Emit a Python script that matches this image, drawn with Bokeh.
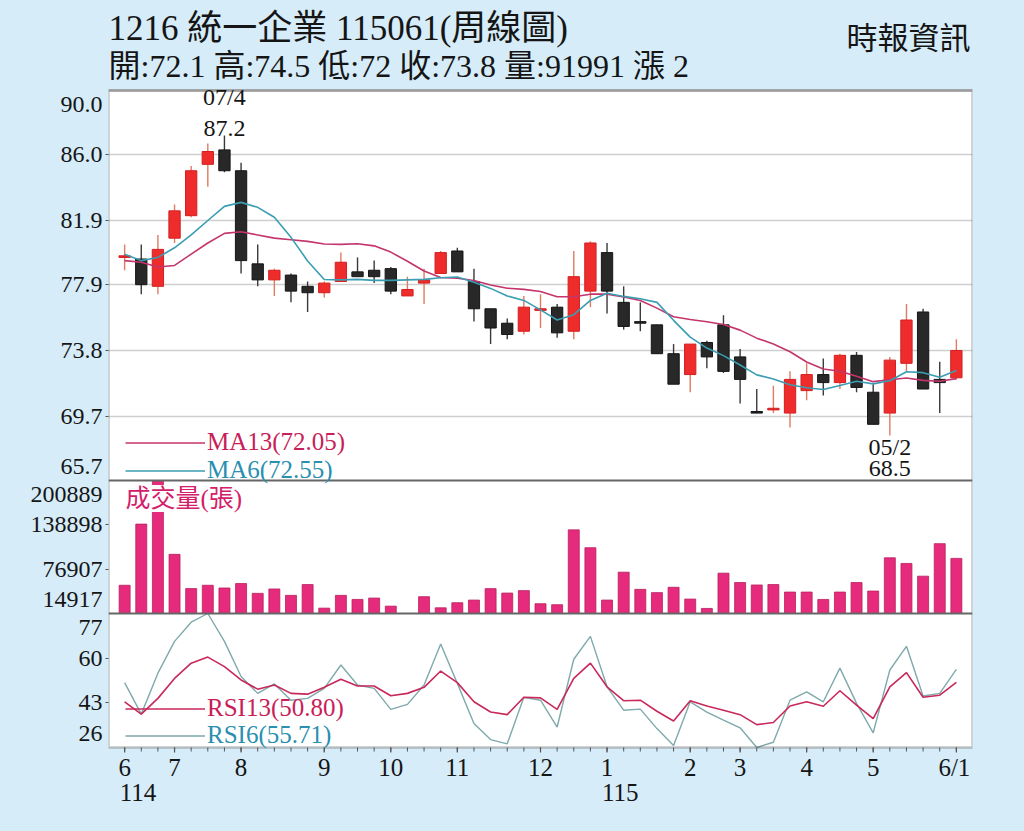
from bokeh.plotting import figure
from bokeh.models import (Range1d, FixedTicker, Label, Span, Legend, LegendItem, ColumnDataSource,
                          BoxAnnotation)
from bokeh.embed import file_html
from bokeh.resources import INLINE

# ---------------- data ----------------
OPEN = [79.6,79.5,77.8,80.8,82.2,85.4,86.3,85.0,79.2,78.2,78.5,77.8,77.4,78.1,78.7,78.8,78.9,77.2,78.0,78.6,
        80.0,78.1,76.4,75.5,75.0,76.3,76.5,75.0,77.5,79.9,76.8,75.6,75.4,73.6,72.3,74.3,75.4,73.4,70.0,70.1,
        69.9,71.3,72.3,71.8,73.5,71.2,69.9,73.0,76.2,72.0,72.1]
HIGH = [80.4,80.4,81.0,82.9,85.3,86.7,87.2,85.5,80.4,78.9,78.6,78.1,78.1,79.9,79.6,79.4,79.0,78.4,78.9,80.0,
        80.2,78.9,76.4,75.8,77.2,77.3,76.7,80.0,80.6,80.5,77.8,76.8,75.4,74.2,74.2,74.4,76.0,73.9,71.4,71.6,
        72.5,73.0,73.3,73.6,73.7,71.7,73.4,76.7,76.4,73.1,74.5]
LOW = [78.8,77.3,77.3,80.5,82.1,84.0,84.9,78.6,77.8,77.2,76.8,76.2,77.1,78.1,78.4,78.0,77.3,77.2,76.7,78.6,
       78.7,75.6,74.2,74.5,74.8,75.2,74.6,74.5,76.5,76.1,75.1,75.0,73.6,71.7,71.2,72.7,72.4,70.5,69.9,69.9,
       69.0,70.7,71.0,71.4,71.2,69.2,68.5,72.5,71.4,69.9,72.0]
CLOSE = [79.7,77.9,80.1,82.5,85.0,86.2,85.0,79.4,78.2,78.8,77.5,77.4,78.0,79.3,78.4,78.4,77.5,77.6,78.2,79.9,
         78.7,76.4,75.2,74.8,76.5,76.4,74.9,78.4,80.5,77.5,75.3,75.5,73.6,71.7,74.2,73.4,72.5,72.0,69.9,70.2,
         72.0,72.3,71.8,73.5,71.5,69.2,73.2,75.7,71.4,71.8,73.8]
MA13 = [79.4,79.3,79.0,79.1,79.8,80.5,81.1,81.2,81.0,80.8,80.7,80.6,80.44,80.41,80.45,80.32,79.93,79.36,78.75,
        78.35,78.3,78.16,77.88,77.68,77.61,77.48,77.15,77.15,77.31,77.31,77.13,76.92,76.44,75.9,75.73,75.59,
        75.42,75.07,74.57,74.21,73.72,73.08,72.65,72.51,72.2,71.86,71.98,72.09,71.94,71.88,72.05]
MA6 = [79.8,79.4,79.6,80.2,81.0,81.9,82.78,83.03,82.72,82.1,80.85,79.38,78.22,78.2,78.23,78.17,78.17,78.2,
       78.23,78.33,78.38,78.05,77.67,77.2,76.92,76.33,75.7,76.03,76.92,77.37,77.17,77.02,76.8,75.68,74.63,
       73.95,73.48,72.9,72.28,72.03,71.67,71.48,71.37,71.62,71.88,71.72,71.92,72.48,72.42,72.13,72.55]
VOLUME = [54400,139900,200889,97600,49700,54400,50600,56800,43100,49200,40300,55400,22400,40300,34600,36500,
          25200,14917,38400,22900,30000,33700,49700,43500,46900,28600,27200,131900,106900,33700,72700,48700,
          44100,51600,35100,22000,71300,58200,54800,55400,44900,44900,34600,44900,58200,46300,92800,84900,
          67100,112600,91991]
RSI13 = [43.4,38.7,44.7,52.3,58.1,60.4,56.8,51.7,48.2,49.8,46.6,46.3,48.9,52.0,49.4,49.4,45.7,46.6,48.9,55.1,
         50.7,43.4,39.5,38.5,45.1,44.9,40.5,52.3,58.1,49.1,43.8,44.0,39.8,36.1,43.8,41.8,40.2,38.5,34.7,35.5,
         41.8,43.4,41.7,47.6,42.1,37.0,49.1,54.5,45.1,45.9,50.8]
RSI6 = [50.7,38.7,54.3,66.4,73.7,77.0,66.4,53.0,46.6,50.2,44.0,44.7,48.5,57.4,49.8,48.5,40.5,42.4,49.8,65.4,
        50.4,35.1,29.0,27.4,45.1,44.0,33.8,59.6,68.3,49.1,40.2,40.6,33.2,26.8,43.4,39.5,36.4,33.5,26.0,28.0,
        44.0,47.2,43.4,56.2,42.8,31.6,55.5,64.5,45.6,46.6,55.71]

PRICE_TICKS = [65.7, 69.7, 73.8, 77.9, 81.9, 86.0, 90.0]
VOL_TICKS = [14917, 76907, 138898, 200889]
RSI_TICKS = [26, 43, 60, 77]
MONTH_IDX = [0, 3, 7, 12, 16, 20, 25, 29, 34, 37, 41, 45, 50]
MONTH_LABELS = ["6", "7", "8", "9", "10", "11", "12", "1", "2", "3", "4", "5", "6/1"]
YEAR_IDX = [0, 29]
YEAR_LABELS = ["114", "115"]

# ---------------- layout constants ----------------
W, H = 1024, 831
BG = "#d6ecf9"
SERIF = "'Liberation Serif', 'Noto Sans CJK TC'"
INK = "#151515"
HEAD_H, MAIN_H, VOL_H, RSI_H = 90, 390, 133, 134
FOOT_H = H - HEAD_H - MAIN_H - VOL_H - RSI_H          # 84 px under the chart
X_START, X_END = -0.97, 50.97
BORDER_L, BORDER_R = 108, 52
MINOR_TICK_PX, MAJOR_TICK_PX = 4, 5

n = len(CLOSE)
idx = list(range(n))

# every panel is mapped onto the one frame that fills the page height
pmin, pmax = PRICE_TICKS[0], PRICE_TICKS[-1]
p_ppu = MAIN_H / (pmax - pmin)
main_range = Range1d(pmin - (VOL_H + RSI_H + FOOT_H) / p_ppu, pmax + HEAD_H / p_ppu)
vmin, vmax = VOL_TICKS[0], VOL_TICKS[-1]
v_ppu = VOL_H / (vmax - vmin)
vol_range = Range1d(vmin - (RSI_H + FOOT_H) / v_ppu, vmax + (HEAD_H + MAIN_H) / v_ppu)
rmin, rmax = RSI_TICKS[0], RSI_TICKS[-1]
r_ppu = RSI_H / (rmax - rmin)
rsi_range = Range1d(rmin - FOOT_H / r_ppu, rmax + (HEAD_H + MAIN_H + VOL_H) / r_ppu)

p = figure(width=W, height=H, x_range=Range1d(X_START, X_END), y_range=main_range,
           output_backend="svg", toolbar_location=None, x_axis_location=None,
           min_border_left=BORDER_L, min_border_right=BORDER_R, min_border_top=0, min_border_bottom=0,
           border_fill_color=BG, background_fill_color=BG, outline_line_color=None)
p.extra_y_ranges = {"vol": vol_range, "rsi": rsi_range}

def to_main(v, rng):
    return main_range.start + (v - rng.start) / (rng.end - rng.start) * (main_range.end - main_range.start)

chart_bottom = to_main(rmin, rsi_range)
# white chart area, drawn beneath everything else
p.add_layout(BoxAnnotation(top=pmax, bottom=chart_bottom, fill_color="white", fill_alpha=1,
                           line_color=None, level="image"))

p.xgrid.visible = False
p.ygrid.ticker = FixedTicker(ticks=PRICE_TICKS[1:-1])
p.ygrid.grid_line_color = "#cfcfcf"
p.ygrid.grid_line_width = 1.5

# left axis: labels of all three panels, placed through the panel scales
shift = 14 / p_ppu   # edge labels are drawn just inside their panel
tick_pos, tick_txt, minor_pos = [], [], []
for ticks, rng, fmt in ((PRICE_TICKS, main_range, "%.1f"), (VOL_TICKS, vol_range, "%d"),
                        (RSI_TICKS, rsi_range, "%d")):
    for i, v in enumerate(ticks):
        pos = to_main(v, rng)
        if i == 0:
            pos += shift
        elif i == len(ticks) - 1:
            pos -= shift
        else:
            minor_pos.append(pos)
        tick_pos.append(pos)
        tick_txt.append(fmt % v)

ya = p.yaxis[0]
ya.ticker = FixedTicker(ticks=tick_pos, minor_ticks=minor_pos)
ya.major_label_overrides = dict(zip(tick_pos, tick_txt))
ya.axis_line_color = None
ya.major_tick_out = 0
ya.major_tick_in = 0
ya.minor_tick_out = 3
ya.minor_tick_in = 0
ya.minor_tick_line_color = "#555555"
ya.major_label_standoff = 3
ya.major_label_text_font = SERIF
ya.major_label_text_font_size = "24px"
ya.major_label_text_color = INK

# chart border and panel separators
p.add_layout(BoxAnnotation(top=pmax, bottom=chart_bottom, fill_alpha=0,
                           line_color="#3a3a3a", line_width=2.5))
p.add_layout(Span(location=pmax, dimension="width", line_color="#9c9c9c", line_width=2.5))
p.add_layout(Span(location=pmin, dimension="width", line_color="#666666", line_width=2))
p.add_layout(Span(location=rmax, dimension="width", y_range_name="rsi",
                  line_color="#666666", line_width=2))

# time ticks under the chart (one per week, months slightly longer)
p.segment(x0=idx, y0=[rmin] * n, x1=idx, y1=[rmin - MINOR_TICK_PX / r_ppu] * n,
          y_range_name="rsi", line_color="#555555", line_width=1)
p.segment(x0=MONTH_IDX, y0=[rmin] * len(MONTH_IDX), x1=MONTH_IDX,
          y1=[rmin - MAJOR_TICK_PX / r_ppu] * len(MONTH_IDX),
          y_range_name="rsi", line_color="#555555", line_width=1.2)

# candles
up = [c >= o for o, c in zip(OPEN, CLOSE)]
src = ColumnDataSource(dict(
    x=idx, high=HIGH, low=LOW,
    top=[max(o, c) for o, c in zip(OPEN, CLOSE)],
    bottom=[min(o, c) for o, c in zip(OPEN, CLOSE)],
    fill=["#ee2c2c" if u else "#282828" for u in up],
    edge=["#d41f1f" if u else "#151515" for u in up],
    wick=["#e07a62" if u else "#3a3a3a" for u in up],
))
p.segment(x0="x", y0="high", x1="x", y1="low", line_color="wick", line_width=1.4, source=src)
p.vbar(x="x", width=0.68, top="top", bottom="bottom", fill_color="fill",
       line_color="edge", line_width=1, source=src)

r_ma13 = p.line(idx, MA13, line_color="#c4356b", line_width=1.6)
r_ma6 = p.line(idx, MA6, line_color="#3a9db2", line_width=1.6)

# volume
p.vbar(x=idx, width=0.66, top=VOLUME, bottom=vmin, y_range_name="vol",
       fill_color="#e62b7c", line_color="#b81f5d", line_width=0.8)

# RSI
r_rsi6 = p.line(idx, RSI6, y_range_name="rsi", line_color="#7fa9ab", line_width=1.4)
r_rsi13 = p.line(idx, RSI13, y_range_name="rsi", line_color="#c8285a", line_width=1.6)

# legends (location measured from the frame bottom = page bottom)
def add_legend(text, renderer, color, bottom_px):
    p.add_layout(Legend(items=[LegendItem(label=text, renderers=[renderer])],
                        location=(17, bottom_px), glyph_width=80, glyph_height=25,
                        label_standoff=2, padding=0, margin=0, spacing=0,
                        border_line_alpha=0, background_fill_alpha=0,
                        label_text_font=SERIF, label_text_font_size="25px",
                        label_text_color=color, label_height=25))

add_legend("MA13(%.2f)" % MA13[-1], r_ma13, "#c81e5a", 291 + FOOT_H)
add_legend("MA6(%.2f)" % MA6[-1], r_ma6, "#2a8fb0", 263 + FOOT_H)
add_legend("RSI13(%.2f)" % RSI13[-1], r_rsi13, "#c81e5a", 25 + FOOT_H)
add_legend("RSI6(%.2f)" % RSI6[-1], r_rsi6, "#2a8fb0", -2 + FOOT_H)

# high / low annotations
hi = HIGH.index(max(HIGH))
lo = LOW.index(min(LOW))
p.add_layout(Label(x=hi, y=HIGH[hi], text="07/4", text_align="center", text_baseline="bottom",
                   y_offset=25, text_font=SERIF, text_font_size="24px", text_color=INK))
p.add_layout(Label(x=hi, y=HIGH[hi], text="%.1f" % HIGH[hi], text_align="center",
                   text_baseline="bottom", y_offset=-1, text_font=SERIF, text_font_size="24px",
                   text_color=INK))
p.add_layout(Label(x=lo, y=LOW[lo], text="05/2", text_align="center", text_baseline="top",
                   y_offset=2, text_font=SERIF, text_font_size="24px", text_color=INK))
p.add_layout(Label(x=lo, y=LOW[lo], text="%.1f" % LOW[lo], text_align="center", text_baseline="top",
                   y_offset=-25, text_font=SERIF, text_font_size="24px", text_color=INK,
                   background_fill_color="white"))

# volume panel title
p.add_layout(Label(x=X_START, y=vmax, y_range_name="vol", text="成交量(張)", x_offset=17,
                   y_offset=-18, text_align="left", text_baseline="middle", text_font=SERIF,
                   text_font_size="25px", text_color="#d3206a", background_fill_color="white"))

# time labels under the chart
for i, s in zip(MONTH_IDX, MONTH_LABELS):
    p.add_layout(Label(x=i, y=767, y_units="canvas", text=s, text_align="center",
                       text_baseline="middle", x_offset=(-2 if s == MONTH_LABELS[-1] else 0),
                       text_font=SERIF, text_font_size="25px", text_color=INK))
for i, s in zip(YEAR_IDX, YEAR_LABELS):
    p.add_layout(Label(x=i, y=792, y_units="canvas", text=s, text_align="left",
                       text_baseline="middle", x_offset=-5,
                       text_font=SERIF, text_font_size="25px", text_color=INK))

# header texts
p.add_layout(Label(x=108, y=28, x_units="canvas", y_units="canvas",
                   text="1216  統一企業 115061(周線圖)", text_align="left", text_baseline="middle",
                   text_font=SERIF, text_font_size="35px", text_color=INK))
line2 = "開:%g 高:%g 低:%g 收:%g 量:%d 漲 %g" % (OPEN[-1], HIGH[-1], LOW[-1], CLOSE[-1],
                                            VOLUME[-1], round(CLOSE[-1] - CLOSE[-2], 1))
p.add_layout(Label(x=108, y=65, x_units="canvas", y_units="canvas", text=line2,
                   text_align="left", text_baseline="middle",
                   text_font=SERIF, text_font_size="32px", text_color=INK))
p.add_layout(Label(x=970, y=38, x_units="canvas", y_units="canvas", text="時報資訊",
                   text_align="right", text_baseline="middle",
                   text_font=SERIF, text_font_size="31px", text_color=INK))

# page background in the same colour, so no seam shows at the frame edges
PAGE = "{% block preamble %}<style>html, body { background: " + BG + "; margin: 0; }</style>{% endblock %}"
open("out.html", "w").write(file_html(p, INLINE, title="1216 統一企業 周線圖", template=PAGE))
